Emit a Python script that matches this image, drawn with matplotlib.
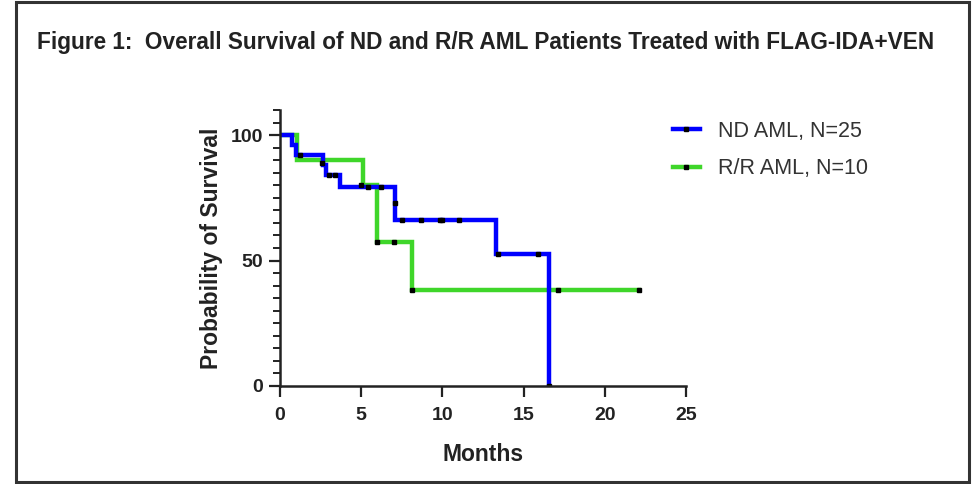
import matplotlib
matplotlib.use("Agg")
import matplotlib.pyplot as plt
from matplotlib.patches import Rectangle
from matplotlib.lines import Line2D
from matplotlib.ticker import MultipleLocator

plt.rcParams["font.family"] = ["Liberation Sans", "DejaVu Sans"]

# Kaplan-Meier steps (months, % surviving)
nd_times = [0, 0.72, 1.0, 2.65, 2.85, 3.7, 7.1, 13.3, 16.55]
nd_surv = [100, 96, 92, 88, 84, 79.3, 66, 52.8, 0]
nd_cens_t = [1.2, 2.6, 3.0, 3.4, 5.4, 6.2, 7.1, 7.5, 8.7, 9.85, 10.0, 11.0, 13.45, 15.9, 16.55]
nd_cens_s = [92, 89, 84, 84, 79.3, 79.3, 72.9, 66, 66, 66, 66, 66, 52.8, 52.8, 0]

rr_times = [0, 1.03, 5.1, 6.0, 8.1, 22.1]
rr_surv = [100, 90, 80, 57.5, 38.3, 38.3]
rr_cens_t = [5.0, 6.0, 7.0, 8.1, 17.1, 22.1]
rr_cens_s = [80, 57.5, 57.5, 38.3, 38.3, 38.3]

labels = ["ND AML, N=25", "R/R AML, N=10"]
blue = "#0000ff"
green = "#3fd62a"
ink = "#222222"

fig = plt.figure(figsize=(9.74, 4.84), dpi=100)
ax = fig.add_axes([0.2875, 0.2025, 0.4168, 0.5702])

ax.step(rr_times, rr_surv, where="post", color=green, lw=3.2, label=labels[1],
        solid_joinstyle="miter")
ax.step(nd_times, nd_surv, where="post", color=blue, lw=3.2, label=labels[0],
        solid_joinstyle="miter")
ax.plot(rr_cens_t, rr_cens_s, "s", color="black", ms=3.2, ls="none")
ax.plot(nd_cens_t, nd_cens_s, "s", color="black", ms=3.2, ls="none")

ax.set_xlim(0, 25)
ax.set_ylim(0, 110)
ax.set_xticks([0, 5, 10, 15, 20, 25])
ax.set_yticks([0, 50, 100])
ax.yaxis.set_minor_locator(MultipleLocator(5))

for side in ["top", "right"]:
    ax.spines[side].set_visible(False)
for side in ["left", "bottom"]:
    ax.spines[side].set_linewidth(1.8)
    ax.spines[side].set_color(ink)

ax.tick_params(axis="both", which="major", length=8, width=1.6, color=ink,
               labelsize=14, labelcolor=ink)
ax.tick_params(axis="x", which="major", pad=7)
ax.tick_params(axis="y", which="major", pad=4)
ax.tick_params(axis="y", which="minor", length=5, width=1.4, color=ink)
for lab in ax.get_xticklabels() + ax.get_yticklabels():
    lab.set_fontweight("bold")

ax.set_xlabel("Months", fontsize=16.5, fontweight="bold", color=ink, labelpad=14)
ax.set_ylabel("Probability of Survival", fontsize=16.5, fontweight="bold",
              color=ink, labelpad=6)

# legend with a censor dot in the middle of each line sample
handles = [
    Line2D([0], [0], color=blue, lw=3.2, marker="s", ms=3.2,
           markerfacecolor="black", markeredgecolor="black"),
    Line2D([0], [0], color=green, lw=3.2, marker="s", ms=3.2,
           markerfacecolor="black", markeredgecolor="black"),
]
leg = fig.legend(handles, labels, loc="upper left", bbox_to_anchor=(0.671, 0.79),
                 frameon=False, fontsize=15.5, handlelength=1.25, handletextpad=0.85,
                 labelspacing=0.75)
for t in leg.get_texts():
    t.set_color("#333333")

fig.text(0.038, 0.912, "Figure 1:  Overall Survival of ND and R/R AML Patients Treated with FLAG-IDA+VEN",
         fontsize=16.3, fontweight="bold", color=ink, va="center", ha="left")

# outer frame
fig.patches.append(Rectangle((16 / 974, 2 / 484), 953 / 974, 480 / 484,
                             transform=fig.transFigure, fill=False,
                             edgecolor="#333333", lw=2.2))

fig.savefig("out.png", dpi=100)
